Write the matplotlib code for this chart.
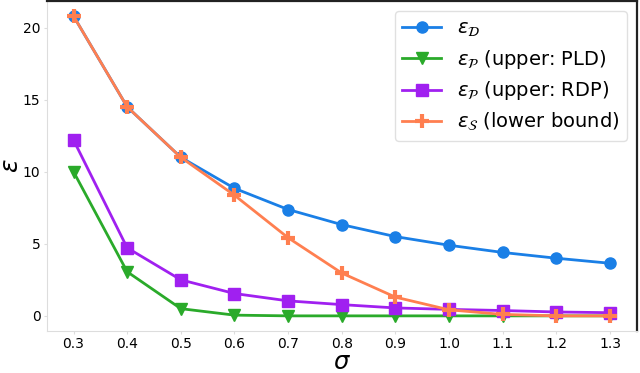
import matplotlib

matplotlib.use("Agg")
import matplotlib.pyplot as plt

# noise multiplier sigma and the four epsilon curves
sigma = [0.3, 0.4, 0.5, 0.6, 0.7, 0.8, 0.9, 1.0, 1.1, 1.2, 1.3]
eps_d = [20.8, 14.5, 11.0, 8.85, 7.38, 6.33, 5.5, 4.9, 4.4, 4.0, 3.65]
eps_p_pld = [10.0, 3.06, 0.5, 0.05, 0.0, 0.0, 0.0, 0.0, 0.0, 0.0, 0.0]
eps_p_rdp = [12.2, 4.72, 2.5, 1.55, 1.04, 0.78, 0.55, 0.45, 0.37, 0.27, 0.22]
eps_s = [20.8, 14.5, 11.0, 8.37, 5.42, 2.97, 1.3, 0.42, 0.1, 0.0, 0.0]

labels = [r"$\varepsilon_{\mathcal{D}}$",
          r"$\varepsilon_{\mathcal{P}}$ (upper: PLD)",
          r"$\varepsilon_{\mathcal{P}}$ (upper: RDP)",
          r"$\varepsilon_{\mathcal{S}}$ (lower bound)"]

_LIGHT = "#dddddd"

fig = plt.figure(figsize=(6.4, 3.73), dpi=100)
ax = fig.add_axes([0.073, 0.113, 0.922, 0.884])

ax.plot(sigma, eps_d, color="#1a7fe6", lw=2, marker="o", ms=8, label=labels[0])
ax.plot(sigma, eps_p_pld, color="#2aaa2a", lw=2, marker="v", ms=8, label=labels[1])
ax.plot(sigma, eps_p_rdp, color="#a020f0", lw=2, marker="s", ms=8, label=labels[2])
ax.plot(sigma, eps_s, color="#ff7f50", lw=2, marker="+", ms=10, mew=3, label=labels[3])

ax.set_xticks(sigma)
ax.set_xticklabels([f"{s:.1f}" for s in sigma])
ax.set_yticks([0, 5, 10, 15, 20])
ax.tick_params(labelsize=10, length=2, width=0.8, pad=2.5, color=_LIGHT)
ax.set_xlabel(r"$\sigma$", fontsize=17.5, labelpad=-0.5)
ax.set_ylabel(r"$\varepsilon$", fontsize=18, labelpad=0)

for side in ("left", "bottom"):
    ax.spines[side].set_color(_LIGHT)
for side in ("top", "right"):
    ax.spines[side].set_color("#222222")
    ax.spines[side].set_linewidth(1.6)

ax.legend(loc="upper right", fontsize=14, framealpha=0.9, borderaxespad=0.5,
          handlelength=2.0, labelspacing=0.45, edgecolor="#dddddd")

fig.savefig("out.png", dpi=100)
